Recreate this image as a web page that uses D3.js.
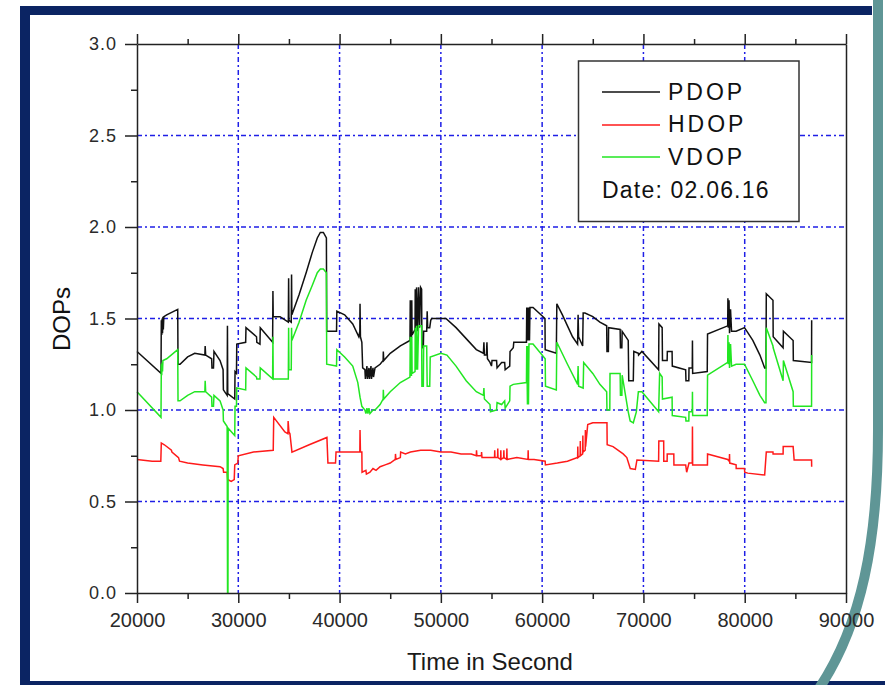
<!DOCTYPE html>
<html><head><meta charset="utf-8">
<script src="https://cdn.jsdelivr.net/npm/d3@7"></script>
<style>body{margin:0;background:#fff;} svg{display:block;}</style>
</head><body><svg id="c" width="885" height="685"></svg>
<script>
// ---------- data ----------
const xMajorTicks = [20000,30000,40000,50000,60000,70000,80000,90000];
const xMinorTicks = [25000,35000,45000,55000,65000,75000,85000];
const yMajorTicks = [0,0.5,1.0,1.5,2.0,2.5,3.0];
const yMinorTicks = [0.25,0.75,1.25,1.75,2.25,2.75];
const xGrid = [30000,40000,50000,60000,70000,80000];
const yGrid = [0.5,1.0,1.5,2.0,2.5];
const seriesNames = ["PDOP","HDOP","VDOP"];
const dateLabel = "Date: 02.06.16";

const pdop = [
[20000,1.32],[22370,1.20],[22400,1.49],[22440,1.41],[22480,1.50],[22520,1.42],[22560,1.51],[22600,1.44],[22650,1.51],[22930,1.52],[24020,1.55],[24050,1.25],[24250,1.25],[25000,1.29],[25700,1.31],[26700,1.30],[26730,1.35],[26780,1.30],[27370,1.28],[27400,1.23],[27550,1.23],[27600,1.32],[28200,1.27],[28500,1.22],[28530,1.11],[28900,1.08],[28930,1.46],[28960,1.09],[29650,1.06],[29680,1.21],[29820,1.20],[29850,1.36],[30730,1.37],[30760,1.45],[31800,1.40],[31830,1.37],[32140,1.36],[32170,1.45],[33390,1.37],[33420,1.65],[33450,1.51],[34120,1.51],[34940,1.48],[34970,1.72],[35000,1.49],[35230,1.48],[35260,1.74],[35290,1.52],[36000,1.63],[36700,1.75],[37300,1.86],[37800,1.94],[38100,1.97],[38400,1.97],[38700,1.94],[38730,1.43],[39700,1.43],[39730,1.54],[40500,1.52],[41300,1.47],[41900,1.40],[42000,1.43],[42020,1.58],[42060,1.40],[42200,1.37],[42280,1.23],[42500,1.22],[42550,1.17],[42700,1.24],[42750,1.17],[42900,1.23],[42950,1.17],[43100,1.24],[43150,1.17],[43300,1.23],[43350,1.18],[43500,1.23],[44000,1.25],[44300,1.27],[44320,1.32],[44360,1.27],[45000,1.31],[46000,1.35],[46950,1.38],[46980,1.60],[47010,1.40],[47100,1.40],[47130,1.60],[47160,1.41],[47450,1.44],[47470,1.66],[47550,1.42],[47600,1.67],[47700,1.43],[47800,1.67],[47900,1.45],[48000,1.67],[48100,1.66],[48130,1.34],[48270,1.34],[48300,1.43],[48600,1.43],[48650,1.54],[48700,1.45],[48900,1.45],[49000,1.49],[49100,1.50],[50500,1.50],[51500,1.45],[52500,1.39],[53500,1.33],[54200,1.31],[54250,1.37],[54300,1.30],[54500,1.30],[54550,1.37],[54600,1.28],[54850,1.26],[55000,1.24],[55050,1.27],[55500,1.27],[55550,1.23],[56000,1.26],[56300,1.26],[56350,1.22],[56800,1.24],[56830,1.32],[57150,1.34],[57200,1.37],[58450,1.37],[58480,1.56],[58550,1.38],[58600,1.56],[58650,1.38],[58700,1.56],[58750,1.38],[58800,1.56],[59100,1.56],[60280,1.50],[60300,1.33],[61400,1.31],[61450,1.58],[62000,1.52],[62500,1.46],[63000,1.40],[63500,1.36],[63550,1.52],[63600,1.40],[64000,1.35],[64050,1.53],[64230,1.53],[65000,1.51],[65700,1.48],[66370,1.46],[66400,1.32],[66540,1.32],[66560,1.45],[67700,1.44],[67730,1.34],[67870,1.34],[67900,1.43],[68500,1.38],[68550,1.16],[69000,1.16],[69050,1.32],[69500,1.31],[69520,1.30],[69850,1.32],[71500,1.22],[71530,1.47],[71850,1.45],[71880,1.27],[72340,1.27],[72360,1.32],[72830,1.32],[72850,1.24],[74170,1.22],[74200,1.16],[74480,1.16],[74500,1.23],[74820,1.23],[74840,1.38],[74860,1.20],[76300,1.21],[76330,1.415],[78320,1.46],[78340,1.61],[78380,1.45],[78450,1.60],[78500,1.42],[78600,1.55],[78700,1.43],[79150,1.43],[79980,1.45],[80800,1.38],[81500,1.30],[81970,1.23],[82100,1.23],[82130,1.635],[82790,1.60],[82810,1.40],[83790,1.34],[83820,1.43],[84780,1.38],[84800,1.27],[86600,1.26],[86610,1.49]
];

const hdop = [
[20000,0.73],[21500,0.72],[22350,0.72],[22400,0.82],[22700,0.81],[23400,0.78],[23450,0.77],[24100,0.74],[24200,0.72],[25000,0.71],[26500,0.70],[28200,0.69],[28500,0.68],[28550,0.66],[28900,0.66],[28950,0.62],[29300,0.61],[29600,0.62],[29650,0.70],[29950,0.71],[30000,0.75],[31500,0.77],[33450,0.78],[33500,0.96],[34600,0.88],[34900,0.87],[34920,0.94],[35000,0.88],[35100,0.87],[35300,0.77],[37000,0.81],[38750,0.85],[38850,0.71],[39600,0.71],[39650,0.77],[41800,0.77],[42000,0.77],[42020,0.89],[42060,0.77],[42200,0.77],[42220,0.66],[42600,0.67],[42650,0.65],[43000,0.66],[43300,0.68],[43600,0.67],[44000,0.69],[44500,0.70],[45000,0.71],[45500,0.73],[45520,0.76],[45560,0.73],[46000,0.74],[46030,0.77],[46500,0.76],[47000,0.77],[48000,0.78],[49000,0.78],[50000,0.77],[51000,0.77],[52000,0.76],[53000,0.76],[53500,0.75],[53520,0.78],[53560,0.75],[54000,0.75],[54020,0.77],[54060,0.74],[55300,0.74],[55320,0.78],[55340,0.74],[55600,0.74],[55620,0.79],[55640,0.74],[55900,0.73],[55920,0.78],[55940,0.73],[56200,0.74],[56220,0.78],[56240,0.74],[56500,0.73],[56520,0.79],[56540,0.73],[57500,0.74],[58600,0.73],[58620,0.78],[58640,0.73],[59200,0.73],[60300,0.72],[60320,0.70],[61500,0.71],[62500,0.72],[63500,0.74],[63520,0.80],[63540,0.74],[63750,0.75],[63770,0.83],[63790,0.75],[64000,0.76],[64020,0.86],[64040,0.77],[64250,0.78],[64270,0.89],[64290,0.80],[64500,0.92],[65000,0.93],[66400,0.93],[66420,0.81],[67000,0.80],[68000,0.76],[68360,0.74],[68700,0.68],[69200,0.675],[69360,0.727],[71500,0.72],[71520,0.83],[72000,0.83],[72010,0.72],[72340,0.72],[72350,0.76],[73000,0.76],[73010,0.70],[74170,0.70],[74270,0.66],[74500,0.71],[74820,0.71],[74840,0.91],[74860,0.70],[76320,0.70],[76330,0.76],[78320,0.73],[78480,0.72],[78500,0.76],[78520,0.71],[79150,0.70],[79160,0.68],[79980,0.68],[80000,0.66],[80300,0.655],[81970,0.645],[82130,0.77],[82790,0.77],[82800,0.76],[83790,0.76],[83800,0.80],[84780,0.80],[84880,0.727],[86600,0.727],[86610,0.69]
];

const vdop = [
[20000,1.10],[22370,0.96],[22400,1.25],[22440,1.19],[22480,1.26],[22520,1.21],[22560,1.27],[22930,1.28],[24020,1.33],[24050,1.05],[24250,1.05],[25000,1.08],[25700,1.10],[26700,1.10],[26730,1.16],[26780,1.10],[27370,1.07],[27400,1.02],[27550,1.02],[27600,1.08],[28200,1.05],[28500,1.00],[28530,0.94],[28900,0.91],[28940,0.0],[28980,0.0],[29000,0.90],[29650,0.86],[29680,1.02],[29820,1.02],[29850,1.12],[30730,1.11],[30760,1.23],[31800,1.18],[31830,1.17],[32140,1.17],[32170,1.23],[33390,1.17],[33420,1.40],[33450,1.17],[34120,1.17],[34940,1.17],[34970,1.45],[35000,1.22],[35230,1.22],[35260,1.45],[35290,1.38],[36000,1.48],[36700,1.60],[37300,1.68],[37800,1.75],[38100,1.77],[38400,1.77],[38700,1.75],[38730,1.25],[39700,1.24],[39730,1.33],[40500,1.29],[41300,1.24],[41800,1.15],[42020,1.07],[42200,1.02],[42500,1.00],[42600,0.98],[42700,1.01],[42800,0.98],[42900,1.01],[43000,0.98],[43300,1.00],[43500,1.00],[44000,1.03],[44300,1.06],[44320,1.11],[44360,1.06],[45000,1.10],[46000,1.15],[46950,1.18],[46980,1.40],[47010,1.19],[47100,1.19],[47130,1.40],[47160,1.20],[47450,1.21],[47470,1.45],[47550,1.22],[47600,1.46],[47700,1.22],[47800,1.46],[48100,1.46],[48130,1.13],[48270,1.13],[48300,1.35],[48600,1.35],[48650,1.13],[48900,1.13],[48950,1.29],[50000,1.31],[50600,1.30],[51500,1.24],[52500,1.16],[53500,1.10],[54200,1.08],[54250,1.12],[54300,1.06],[54850,1.03],[54900,0.99],[55500,1.00],[55550,1.04],[56000,1.03],[56300,1.05],[56350,1.01],[56800,1.05],[56830,1.13],[57150,1.14],[58450,1.15],[58480,1.35],[58550,1.03],[58600,1.35],[58650,1.03],[58700,1.36],[58800,1.36],[59100,1.36],[60300,1.28],[60330,1.13],[61400,1.11],[61450,1.37],[62500,1.25],[63500,1.14],[63550,1.24],[63600,1.13],[64050,1.12],[64100,1.26],[65000,1.20],[65700,1.14],[66370,1.10],[66400,1.00],[66680,1.00],[66700,1.20],[67700,1.20],[67730,1.08],[67870,1.08],[67900,1.19],[68500,0.99],[68690,0.94],[69000,0.93],[69300,0.99],[69500,1.10],[69850,1.10],[71500,0.99],[71600,1.20],[71850,1.18],[71880,1.06],[72830,1.07],[72850,0.97],[74170,0.96],[74200,0.94],[74480,0.94],[74500,0.99],[74820,0.99],[74840,1.10],[74860,0.97],[76300,0.97],[76330,1.19],[78320,1.26],[78340,1.41],[78380,1.25],[78450,1.37],[78500,1.23],[78600,1.36],[78700,1.24],[79150,1.25],[79980,1.25],[80800,1.16],[81500,1.08],[81970,1.04],[82100,1.04],[82130,1.45],[82790,1.35],[82810,1.34],[83790,1.16],[83820,1.27],[84780,1.10],[84800,1.02],[86600,1.02],[86610,1.30]
];

const colors = ["#111111","#ff1a1a","#22e622"];

// ---------- drawing ----------
const svg = d3.select('#c');
const NAVY = "#0b2463", TEAL = "#5f9696";

// frame decoration
svg.append('rect').attr('x',20).attr('y',6).attr('width',852).attr('height',9).attr('fill',NAVY);
svg.append('rect').attr('x',20).attr('y',6).attr('width',10).attr('height',679).attr('fill',NAVY);
svg.append('rect').attr('x',20).attr('y',681).attr('width',865).attr('height',4).attr('fill',NAVY);
svg.append('path').attr('d','M878,0 L878,430 C878,540 862,625 818,690')
  .attr('fill','none').attr('stroke',TEAL).attr('stroke-width',10);

const x = d3.scaleLinear().domain([20000,90000]).range([137,846]);
const y = d3.scaleLinear().domain([0,3]).range([593,44]);

// grid
const gridDash = "5,3,2,3";
svg.append('g').selectAll('line').data(xGrid).join('line')
  .attr('x1',d=>x(d)).attr('x2',d=>x(d)).attr('y1',y(3)).attr('y2',y(0))
  .attr('stroke','#1f1fe6').attr('stroke-width',1.5).attr('stroke-dasharray',gridDash);
svg.append('g').selectAll('line').data(yGrid).join('line')
  .attr('x1',x(20000)).attr('x2',x(90000)).attr('y1',d=>y(d)).attr('y2',d=>y(d))
  .attr('stroke','#1f1fe6').attr('stroke-width',1.5).attr('stroke-dasharray',gridDash);

// series
const line = d3.line().x(d=>x(d[0])).y(d=>y(d[1]));
[pdop,hdop,vdop].forEach((s,i)=>{
  svg.append('path').datum(s).attr('d',line).attr('fill','none')
    .attr('stroke',colors[i]).attr('stroke-width',1.5).attr('stroke-linejoin','miter');
});

// axes
function styleAxis(g){
  g.selectAll('.domain').attr('stroke','#222').attr('stroke-width',1.5);
  g.selectAll('.tick line').attr('stroke','#222').attr('stroke-width',1.5);
  g.selectAll('text').attr('fill','#2a2a2a');
}
const fontLab = '"Liberation Sans", Arial, sans-serif';
const gB = svg.append('g').attr('transform',`translate(0,${y(0)})`)
  .call(d3.axisBottom(x).tickValues(xMajorTicks).tickSize(10).tickSizeOuter(0).tickPadding(10).tickFormat(d3.format('d')));
gB.selectAll('text').attr('font-family',fontLab).attr('font-size',20);
styleAxis(gB);
const gBm = svg.append('g').attr('transform',`translate(0,${y(0)})`)
  .call(d3.axisBottom(x).tickValues(xMinorTicks).tickSize(6).tickFormat(''));
gBm.select('.domain').remove(); styleAxis(gBm);

const gT = svg.append('g').attr('transform',`translate(0,${y(3)})`)
  .call(d3.axisTop(x).tickValues(xMajorTicks).tickSize(10).tickSizeOuter(0).tickFormat(''));
styleAxis(gT);
const gTm = svg.append('g').attr('transform',`translate(0,${y(3)})`)
  .call(d3.axisTop(x).tickValues(xMinorTicks).tickSize(5).tickFormat(''));
gTm.select('.domain').remove(); styleAxis(gTm);

const gL = svg.append('g').attr('transform',`translate(${x(20000)},0)`)
  .call(d3.axisLeft(y).tickValues(yMajorTicks).tickSize(12).tickSizeOuter(0).tickPadding(8).tickFormat(d3.format('.1f')));
gL.selectAll('text').attr('font-family',fontLab).attr('font-size',18).attr('letter-spacing',1);
styleAxis(gL);
const gLm = svg.append('g').attr('transform',`translate(${x(20000)},0)`)
  .call(d3.axisLeft(y).tickValues(yMinorTicks).tickSize(6).tickFormat(''));
gLm.select('.domain').remove(); styleAxis(gLm);

const gR = svg.append('g').attr('transform',`translate(${x(90000)},0)`)
  .call(d3.axisRight(y).tickValues([]).tickSizeOuter(0));
styleAxis(gR);

// axis titles
svg.append('text').attr('x',490).attr('y',670).attr('text-anchor','middle')
  .attr('font-family',fontLab).attr('font-size',24).attr('fill','#1a1a1a').text('Time in Second');
svg.append('text').attr('transform','translate(70,319) rotate(-90)').attr('text-anchor','middle')
  .attr('font-family',fontLab).attr('font-size',24).attr('fill','#111').text('DOPs');

// legend
const lg = svg.append('g');
lg.append('rect').attr('x',578.5).attr('y',61).attr('width',220.5).attr('height',160.5)
  .attr('fill','#fff').attr('stroke','#333').attr('stroke-width',1.5);
const legY = [92,125,157], legBase = [100,132,165];
seriesNames.forEach((n,i)=>{
  lg.append('line').attr('x1',602).attr('x2',660).attr('y1',legY[i]).attr('y2',legY[i])
    .attr('stroke',colors[i]).attr('stroke-width',1.5);
  lg.append('text').attr('x',668).attr('y',legBase[i]).attr('font-family',fontLab)
    .attr('font-size',23).attr('letter-spacing',3).attr('fill','#111').text(n);
});
lg.append('text').attr('x',602).attr('y',198).attr('font-family',fontLab)
  .attr('font-size',23).attr('letter-spacing',1.2).attr('fill','#111').text(dateLabel);
</script></body></html>
